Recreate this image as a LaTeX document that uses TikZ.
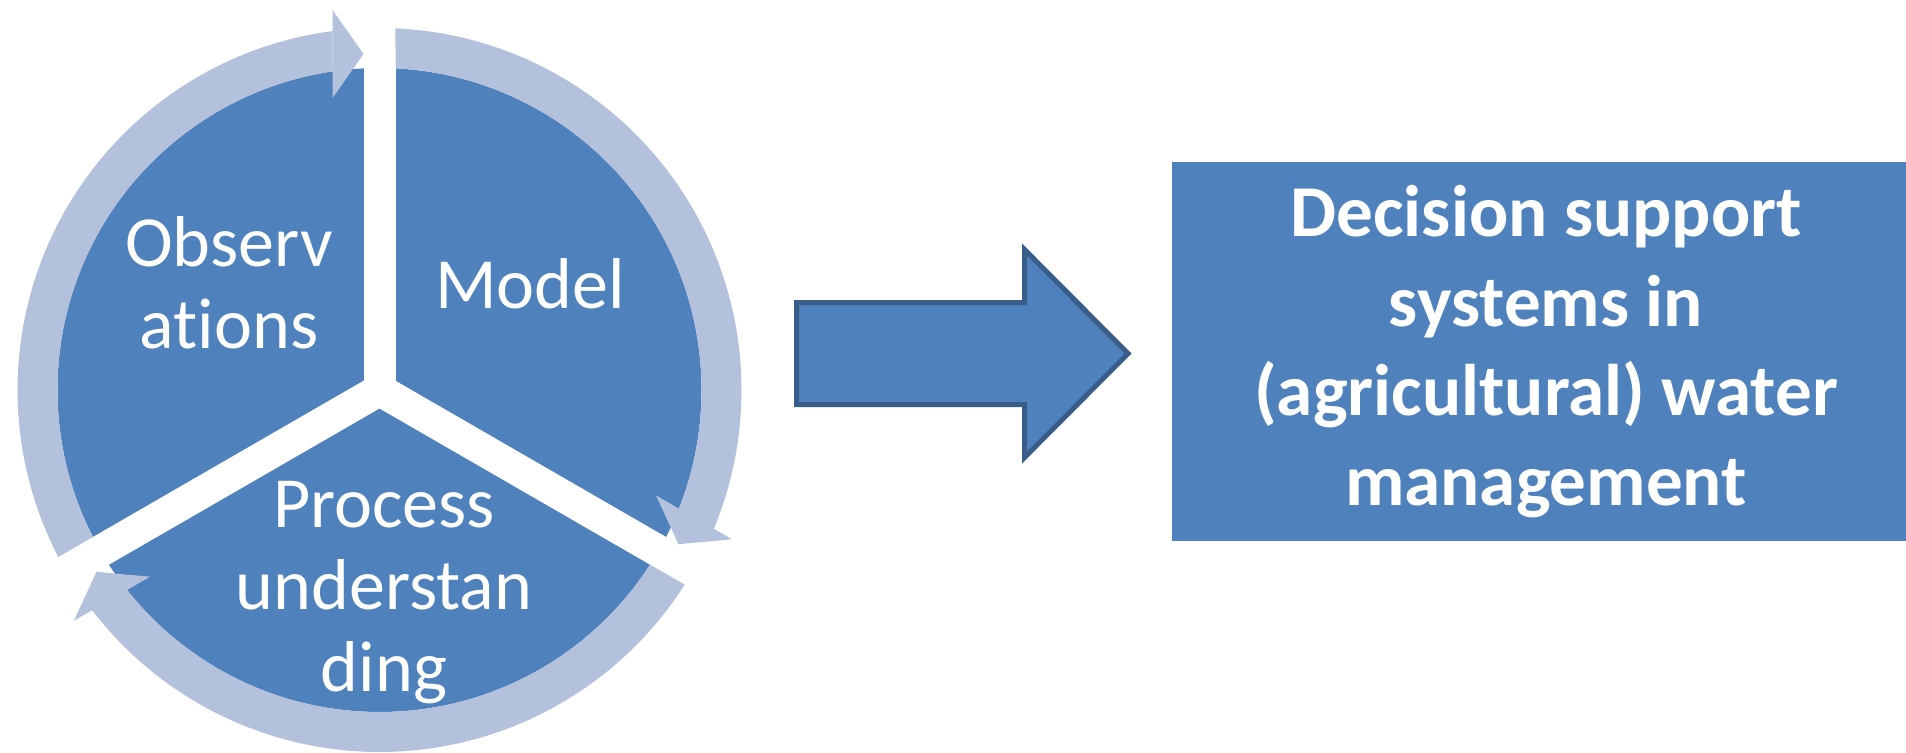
\documentclass[tikz,border=0pt]{standalone}
\usepackage{fontspec}
\setmainfont{Carlito}[Ligatures=NoCommon]
\usepackage{tikz}
\usetikzlibrary{calc, positioning}
\definecolor{cycleblue}{RGB}{79,129,189}
\definecolor{ringblue}{RGB}{179,193,220}
\definecolor{edgeblue}{RGB}{56,93,138}
\tikzset{
    sector/.style={
        fill=cycleblue,
        draw=none
    },
    gapline/.style={
        draw=white,
        line width=0.64cm
    },
    ringarrow/.style={
        fill=ringblue,
        draw=none
    },
    phase/.style={
        text=white,
        inner sep=0pt,
        align=center,
        font=\fontsize{41}{46.7}\selectfont
    },
    dssbox/.style={
        rectangle,
        fill=cycleblue,
        draw=none,
        text=white,
        align=center,
        minimum width=14.96cm,
        minimum height=7.58cm,
        font=\fontsize{41.6}{50.9}\selectfont\bfseries
    },
    blockarrow/.style={
        fill=cycleblue,
        draw=edgeblue,
        line width=0.1cm,
        line join=miter
    }
}

\begin{document}
\begin{tikzpicture}[x=0.02cm, y=0.02cm]

\useasboundingbox (0,0) rectangle (1906,752);
\clip (0,0) rectangle (1906,752);

% Cycle centre
\coordinate (c) at (379.5,362);

% Sectors
\fill[sector] (c) circle[radius=322];
\foreach \g in {90,210,330}
    \draw[gapline] (c) -- ++(\g:380);

% Ring arrows (each one ends at the next gap)
\foreach \g in {90,-30,210} {
    \begin{scope}[shift={(c)}, rotate=\g]
        \fill[ringarrow] (117.47:362) arc[start angle=117.47, end angle=7.46, radius=362]
            -- (8.39:322) arc[start angle=8.39, end angle=117.15, radius=322] -- cycle;
        \fill[ringarrow] (292,47) -- (336,16) -- (380,47) -- cycle;
    \end{scope}
}

% Labels
\node[phase] (obs) at ($(c)+(-150.5,107)$) {Observ\\ations};
\node[phase] (model) at ($(c)+(150.5,106)$) {Model};
\node[phase] (process) at ($(c)+(4.5,-203)$) {Process\\understan\\ding};

% Decision support box
\node[dssbox] (dss) at (1546,400.5) {Decision support\\systems in\\(agricultural) water\\management};

% Block arrow
\coordinate (arr_tail) at (796.5,398.5);
\draw[blockarrow] ($(arr_tail)+(0,51)$) -- ++(228,0) -- ++(0,53) -- ++(103.5,-104)
    -- ++(-103.5,-104) -- ++(0,53) -- ++(-228,0) -- cycle;

\end{tikzpicture}
\end{document}
